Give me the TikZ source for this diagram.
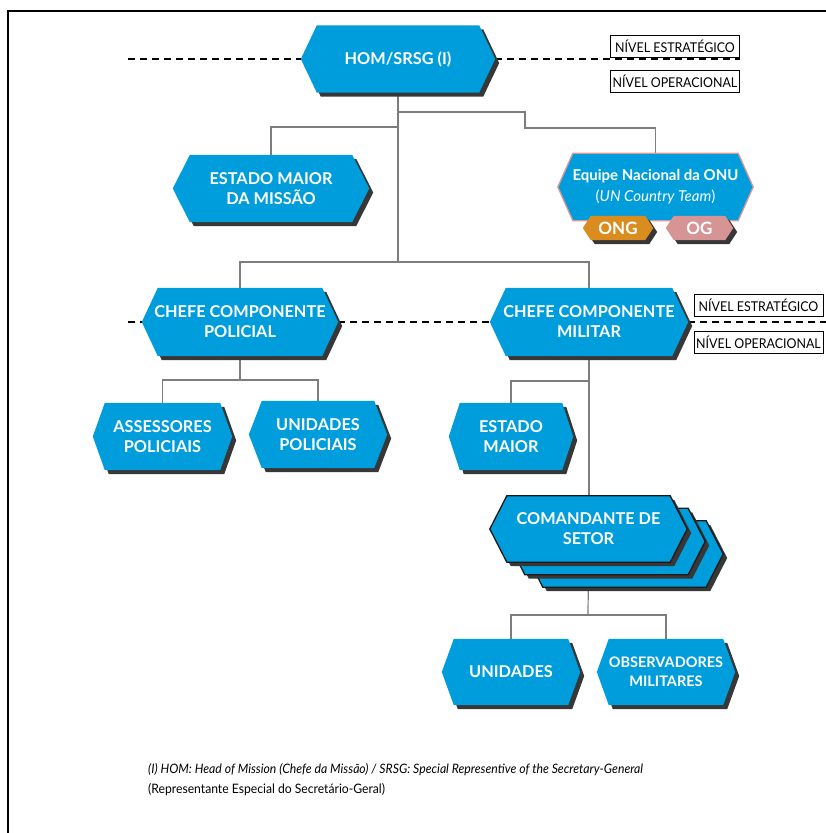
\documentclass[tikz,border=0pt]{standalone}
\usepackage{fontspec}
\setmainfont{Lato}
\usetikzlibrary{calc}
\definecolor{boxblue}{RGB}{0,157,220}
\definecolor{shadowgray}{RGB}{55,55,55}
\definecolor{conngray}{RGB}{125,125,125}
\definecolor{ongorange}{RGB}{218,140,30}
\definecolor{ogpink}{RGB}{214,148,148}
\definecolor{onuborder}{RGB}{222,150,150}
\definecolor{stackline}{RGB}{25,25,25}
\pgfdeclarelayer{back}
\pgfdeclarelayer{shapes}
\pgfsetlayers{back,shapes,main}
\newcommand\hexof[2]{([xshift=#2]#1.north west) -- ([xshift=-#2]#1.north east) -- (#1.east) -- ([xshift=-#2]#1.south east) -- ([xshift=#2]#1.south west) -- (#1.west) -- cycle}
\tikzset{
  hexnode/.style={inner sep=0pt, align=center, text=white, font=\bfseries\fontsize{16.3}{20}\selectfont},
  conn/.style={draw=conngray, line width=1.2pt},
  levelbox/.style={draw=black, line width=0.9pt, minimum width=129pt, minimum height=22pt, inner sep=0pt, font=\fontsize{13.5}{15}\selectfont},
  dashline/.style={line width=2.7pt, dash pattern=on 7pt off 5pt},
  hexfill/.style={fill=boxblue},
  hexshadow/.style={fill=shadowgray, transform canvas={shift={(4pt,-4pt)}}},
  stackfill/.style={fill=boxblue, draw=stackline, line width=1.3pt},
}
\begin{document}
\begin{tikzpicture}[x=1pt,y=-1pt]
\useasboundingbox (0,0) rectangle (826,833);
% frame
\draw[line width=2.5pt, black] (8,833) -- (8,11) -- (826,11);

% nodes
\node[hexnode, minimum width=194pt, minimum height=67pt] (hom) at (398,59) {HOM/SRSG (I)};
\node[hexnode, minimum width=196pt, minimum height=67pt] (em) at (271,188.5) {ESTADO MAIOR\\DA MISSÃO};
\node[hexnode, minimum width=195pt, minimum height=67pt, font=\fontsize{15}{21}\selectfont] (onu) at (655.5,187) {\bfseries Equipe Nacional da ONU\\(\textit{UN Country Team})};
\node[hexnode, minimum width=70pt, minimum height=24pt, font=\bfseries\fontsize{17}{18}\selectfont] (ong) at (618,228) {ONG};
\node[hexnode, minimum width=67pt, minimum height=24pt, font=\bfseries\fontsize{17}{18}\selectfont] (og) at (699.5,228) {OG};
\node[hexnode, minimum width=196pt, minimum height=68pt] (pol) at (240,322) {CHEFE COMPONENTE\\POLICIAL};
\node[hexnode, minimum width=198pt, minimum height=68pt] (mil) at (589,322) {CHEFE COMPONENTE\\MILITAR};
\node[hexnode, minimum width=139pt, minimum height=67pt] (ass) at (162.5,436.5) {ASSESSORES\\POLICIAIS};
\node[hexnode, minimum width=138pt, minimum height=67pt] (upol) at (318,434.5) {UNIDADES\\POLICIAIS};
\node[hexnode, minimum width=124pt, minimum height=67pt] (emil) at (511,436.5) {ESTADO\\MAIOR};
\node[hexnode, minimum width=197pt, minimum height=66pt] (cmd3) at (624.5,554) {};
\node[hexnode, minimum width=197pt, minimum height=66pt] (cmd2) at (606.5,541.5) {};
\node[hexnode, minimum width=197pt, minimum height=66pt] (cmd) at (588.5,529) {COMANDANTE DE\\SETOR};
\node[hexnode, minimum width=138pt, minimum height=66pt] (uni) at (511,672) {UNIDADES};
\node[hexnode, minimum width=138pt, minimum height=66pt, font=\bfseries\fontsize{14.5}{19}\selectfont] (obs) at (666,672) {OBSERVADORES\\MILITARES};

% level labels
\node[levelbox] (ls1) at (675,46) {\scalebox{0.92}[1]{NÍVEL ESTRATÉGICO}};
\node[levelbox] (lo1) at (675,81) {\scalebox{0.92}[1]{NÍVEL OPERACIONAL}};
\node[levelbox] (ls2) at (758.5,305) {\scalebox{0.92}[1]{NÍVEL ESTRATÉGICO}};
\node[levelbox] (lo2) at (758.5,342) {\scalebox{0.92}[1]{NÍVEL OPERACIONAL}};

% footnote
\node[anchor=west, inner sep=0pt, font=\itshape\fontsize{13}{15}\selectfont] (fn1) at (148,770) {\scalebox{0.94}[1]{(I) HOM: Head of Mission (Chefe da Missão) / SRSG: Special Representive of the Secretary-General}};
\node[anchor=west, inner sep=0pt, font=\fontsize{13}{15}\selectfont] (fn2) at (148,790) {\scalebox{0.935}[1]{(Representante Especial do Secretário-Geral)}};

% coordinates
\coordinate (dl1) at (128,59);
\coordinate (dr1) at (740,59);
\coordinate (dl2) at (128,322);
\coordinate (dr2) at (826,322);
\coordinate (jm) at (398,262);
\coordinate (jl) at (398,127);
\coordinate (jr1) at (398,112);
\coordinate (jr2) at (525,128);
\coordinate (jp) at (240,380);
\coordinate (jmil) at (589,381);
\coordinate (jc) at (588,615);

\begin{pgfonlayer}{back}
  \draw[conn] (hom.south) -- (jm);
  \draw[conn] (pol.north) |- (jm) -| (mil.north);
  \draw[conn] (em.north) |- (jl);
  \draw[conn] (jr1) -| (jr2) -| (onu.north);
  \draw[conn] (pol.south) -- (jp);
  \draw[conn] (ass.north) |- (jp) -| (upol.north);
  \draw[conn] (mil.south) -- (mil.south |- cmd.north);
  \draw[conn] (emil.north) |- (jmil);
  \draw[conn] (cmd.south) -- (jc);
  \draw[conn] (uni.north) |- (jc) -| (obs.north);
  \draw[dashline] (dl1) -- (hom.west);
  \draw[dashline] (hom.east) -- (dr1);
  \draw[dashline] (dl2) -- (pol.west);
  \draw[dashline] (pol.east) -- (mil.west);
  \draw[dashline] (mil.east) -- (dr2);
\end{pgfonlayer}

\begin{pgfonlayer}{shapes}
  \foreach \n/\i in {hom/16, em/17, pol/16, mil/16, ass/12, upol/13, emil/11, uni/12, obs/12}{
    \fill[hexshadow] \hexof{\n}{\i};
    \fill[hexfill] \hexof{\n}{\i};
  }
  \filldraw[fill=boxblue, draw=onuborder, line width=1.3pt] \hexof{onu}{15};
  \fill[hexshadow] \hexof{ong}{8};
  \fill[ongorange] \hexof{ong}{8};
  \fill[hexshadow] \hexof{og}{8};
  \fill[ogpink] \hexof{og}{8};
  \foreach \n in {cmd3, cmd2, cmd}{
    \fill[hexshadow] \hexof{\n}{17};
    \filldraw[stackfill] \hexof{\n}{17};
  }
\end{pgfonlayer}
\end{tikzpicture}
\end{document}
